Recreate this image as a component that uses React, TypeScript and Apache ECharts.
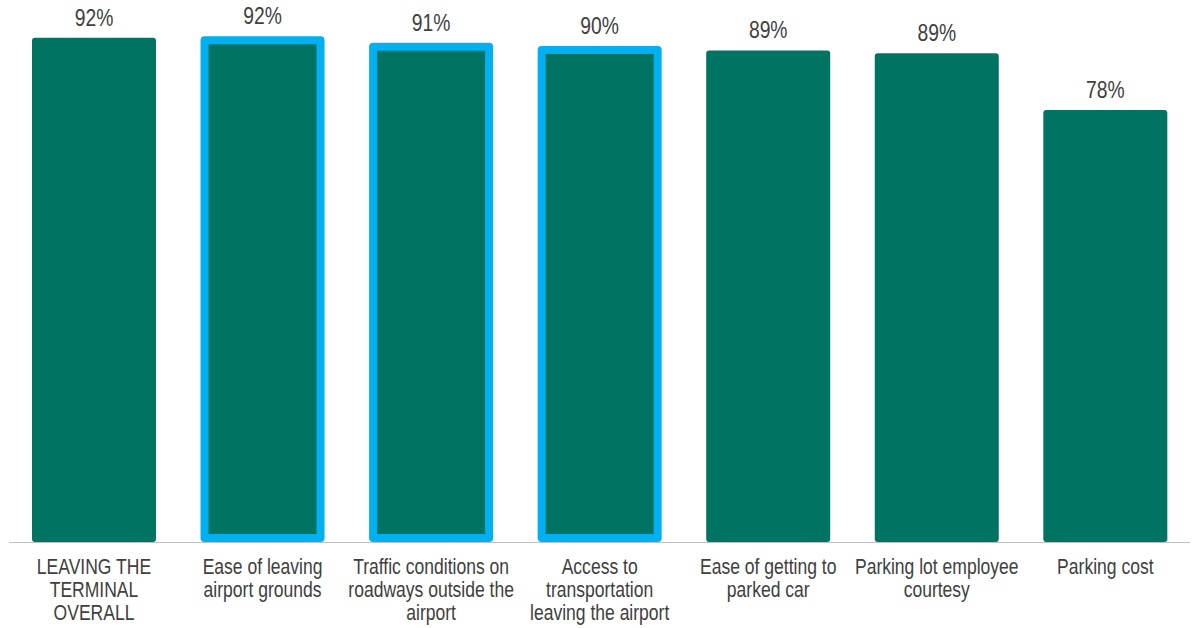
import React, { useEffect, useRef } from "react";
import * as echarts from "echarts";

const categories = [
  "LEAVING THE\nTERMINAL\nOVERALL",
  "Ease of leaving\nairport grounds",
  "Traffic conditions on\nroadways outside the\nairport",
  "Access to\ntransportation\nleaving the airport",
  "Ease of getting to\nparked car",
  "Parking lot employee\ncourtesy",
  "Parking cost",
];
const values = [91.5, 91.8, 90.6, 90.0, 89.2, 88.7, 78.4];
const highlighted = [false, true, true, true, false, false, false];

const GREEN = "#007463";
const BLUE = "#00B0F0";
const TEXT = "#404040";
const FONT = "'Liberation Sans', Arial, sans-serif";

export default function App() {
  const ref = useRef<HTMLDivElement>(null);
  useEffect(() => {
    if (!ref.current) return;
    const chart = echarts.init(ref.current, undefined, { renderer: "svg" });
    chart.setOption({
      animation: false,
      grid: { left: 9.7, right: 2.4, top: 18.55, bottom: 86, containLabel: false },
      xAxis: {
        type: "category",
        data: categories,
        axisTick: { show: false },
        axisLine: { lineStyle: { color: "#BFBFBF", width: 1 } },
        axisLabel: { show: false },
      },
      yAxis: {
        type: "value",
        min: 0,
        max: 95,
        show: false,
        splitLine: { show: false },
      },
      series: [
        {
          type: "bar",
          barWidth: 124,
          data: values.map((v, i) => ({
            value: v,
            itemStyle: highlighted[i]
              ? {
                  color: GREEN,
                  borderColor: BLUE,
                  borderWidth: 8,
                  borderJoin: "round",
                  borderRadius: 0,
                }
              : { color: GREEN, borderWidth: 0, borderRadius: 3 },
          })),
          label: { show: false },
        },
      ],
    });

    const graphics: any[] = [];
    categories.forEach((c, i) => {
      const base = chart.convertToPixel({ xAxisIndex: 0, yAxisIndex: 0 }, [i, 0]) as number[];
      const top = chart.convertToPixel({ xAxisIndex: 0, yAxisIndex: 0 }, [i, values[i]]) as number[];
      graphics.push({
        type: "text",
        x: base[0],
        y: base[1] + 13.3,
        scaleX: 0.815,
        silent: true,
        style: {
          text: c,
          fill: TEXT,
          fontFamily: FONT,
          fontSize: 21.5,
          lineHeight: 22.8,
          align: "center",
          verticalAlign: "top",
        },
      });
      graphics.push({
        type: "text",
        x: top[0],
        y: top[1] - 20.4,
        scaleX: 0.84,
        silent: true,
        style: {
          text: Math.round(values[i]) + "%",
          fill: TEXT,
          fontFamily: FONT,
          fontSize: 23,
          align: "center",
          verticalAlign: "middle",
        },
      });
    });
    chart.setOption({ graphic: graphics });

    return () => chart.dispose();
  }, []);
  return (
    <div
      ref={ref}
      style={{ position: "fixed", left: 0, top: 0, width: 1192, height: 628, background: "#fff" }}
    />
  );
}
